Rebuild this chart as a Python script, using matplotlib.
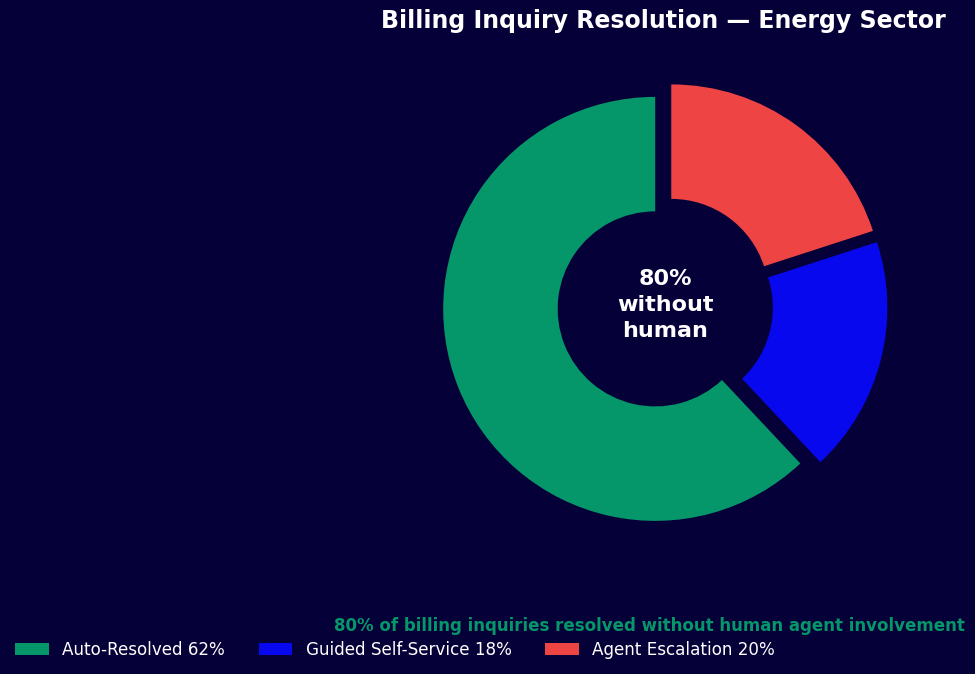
import matplotlib
matplotlib.use("Agg")
import matplotlib.pyplot as plt

# Billing inquiry outcome split (percent)
categories = ["Auto-Resolved", "Guided Self-Service", "Agent Escalation"]
shares = [62, 18, 20]
colors = ["#059669", "#0808EE", "#EF4444"]
center_label = "80%\nwithout\nhuman"
title = "Billing Inquiry Resolution \u2014 Energy Sector"
note = "80% of billing inquiries resolved without human agent involvement"

bg = "#060038"

fig = plt.figure(figsize=(9.75, 6.74), dpi=100, facecolor=bg)
ax = fig.add_axes([0.4103, 0.1543, 0.5436, 0.7864])
ax.set_facecolor(bg)

labels = [f"{c} {s}%" for c, s in zip(categories, shares)]
wedges, _ = ax.pie(
    shares,
    colors=colors,
    startangle=90,
    explode=[0.05] * len(shares),
    wedgeprops=dict(width=0.54, edgecolor="none"),
)
ax.set_xlim(-1.25, 1.25)
ax.set_ylim(-1.25, 1.25)
ax.set_aspect("equal")

ax.text(0, 0, center_label, ha="center", va="center", color="white",
        fontsize=16, fontweight="bold", linespacing=1.4)

fig.text(946 / 975, 1 - 28 / 674, title, ha="right", va="baseline",
         color="white", fontsize=17, fontweight="bold")
fig.text(965 / 975, 1 - 626 / 674, note, ha="right", va="center",
         color="#059669", fontsize=12, fontweight="bold")

leg = fig.legend(wedges, labels, loc="lower left", ncol=3, frameon=False,
                 fontsize=12.1)
for t in leg.get_texts():
    t.set_color("white")

fig.savefig("out.png", dpi=100, facecolor=bg)
